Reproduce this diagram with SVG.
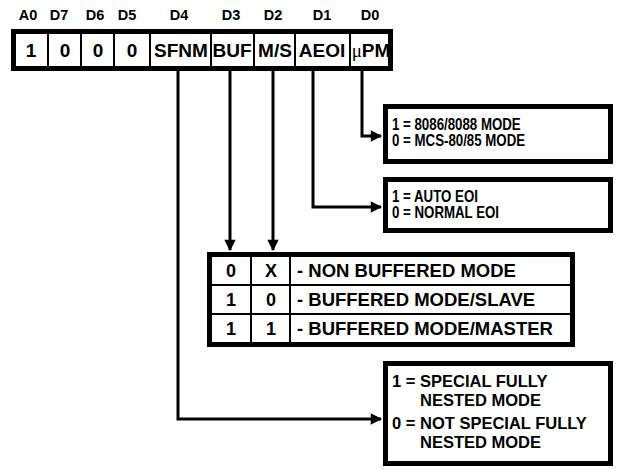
<svg xmlns="http://www.w3.org/2000/svg" width="624" height="470" viewBox="0 0 624 470">
<defs>
<marker id="ah" viewBox="0 0 10 10" refX="9" refY="5" markerWidth="4" markerHeight="3.8" orient="auto" markerUnits="strokeWidth">
<path d="M0,0 L10,5 L0,10 z" fill="#000"/>
</marker>
</defs>
<style>
text{font-family:"Liberation Sans",Arial,sans-serif;font-weight:bold;fill:#000}
.hd{font-size:14.5px;text-anchor:middle}
.cv{font-size:19px;text-anchor:middle}
.tv{font-size:18px;text-anchor:middle}
.bx{fill:#fff;stroke:#000;stroke-width:5}
.dv{stroke:#000;stroke-width:2}
.t{font-size:16px}
.tt{font-size:18.5px}
.t4{font-size:16.5px}
.c{stroke:#000;stroke-width:3;fill:none}
</style>
<g id="header">
<text class="hd" x="28" y="20">A0</text>
<text class="hd" x="59" y="20">D7</text>
<text class="hd" x="95" y="20">D6</text>
<text class="hd" x="127" y="20">D5</text>
<text class="hd" x="179" y="20">D4</text>
<text class="hd" x="231" y="20">D3</text>
<text class="hd" x="273" y="20">D2</text>
<text class="hd" x="322" y="20">D1</text>
<text class="hd" x="370" y="20">D0</text>
</g>
<g id="register">
<rect class="bx" x="13.5" y="31.5" width="377" height="37"/>
<line class="dv" x1="48" y1="34" x2="48" y2="66"/>
<line class="dv" x1="81" y1="34" x2="81" y2="66"/>
<line class="dv" x1="114" y1="34" x2="114" y2="66"/>
<line class="dv" x1="150" y1="34" x2="150" y2="66"/>
<line class="dv" x1="211" y1="34" x2="211" y2="66"/>
<line class="dv" x1="254" y1="34" x2="254" y2="66"/>
<line class="dv" x1="295" y1="34" x2="295" y2="66"/>
<line class="dv" x1="350" y1="34" x2="350" y2="66"/>
<text class="cv" x="31" y="57">1</text>
<text class="cv" x="65" y="57">0</text>
<text class="cv" x="98" y="57">0</text>
<text class="cv" x="132" y="57">0</text>
<text class="cv" x="181" y="57">SFNM</text>
<text class="cv" x="232" y="57">BUF</text>
<text class="cv" x="275" y="57">M/S</text>
<text class="cv" x="322" y="57">AEOI</text>
<text class="cv" x="371" y="57"><tspan font-family="'Liberation Serif',serif" font-weight="normal">μ</tspan>PM</text>
</g>
<g id="connectors">
<path class="c" d="M362,70 V136 H381" marker-end="url(#ah)"/>
<path class="c" d="M313,70 V207 H381" marker-end="url(#ah)"/>
<path class="c" d="M273,70 V250" marker-end="url(#ah)"/>
<path class="c" d="M230,70 V250" marker-end="url(#ah)"/>
<path class="c" d="M178,70 V419 H381" marker-end="url(#ah)"/>
</g>
<g id="upm-box">
<rect class="bx" x="385.5" y="106.5" width="225" height="55"/>
<text class="t" transform="translate(392,130) scale(0.83,1)">1 = 8086/8088 MODE</text>
<text class="t" transform="translate(392,146) scale(0.83,1)">0 = MCS-80/85 MODE</text>
</g>
<g id="aeoi-box">
<rect class="bx" x="385.5" y="179.5" width="225" height="51"/>
<text class="t" transform="translate(392,202) scale(0.83,1)">1 = AUTO EOI</text>
<text class="t" transform="translate(392,218) scale(0.83,1)">0 = NORMAL EOI</text>
</g>
<g id="buf-table">
<rect class="bx" x="209.5" y="254.5" width="363" height="90"/>
<line class="dv" x1="212" y1="285" x2="570" y2="285"/>
<line class="dv" x1="212" y1="314" x2="570" y2="314"/>
<line class="dv" x1="251" y1="257" x2="251" y2="342"/>
<line class="dv" x1="290" y1="257" x2="290" y2="342"/>
<text class="tv" x="231" y="277">0</text>
<text class="tv" x="271" y="277">X</text>
<text class="tv" x="231" y="306">1</text>
<text class="tv" x="271" y="306">0</text>
<text class="tv" x="231" y="335">1</text>
<text class="tv" x="271" y="335">1</text>
<text class="tt" x="297" y="277">- NON BUFFERED MODE</text>
<text class="tt" x="297" y="306">- BUFFERED MODE/SLAVE</text>
<text class="tt" x="297" y="335">- BUFFERED MODE/MASTER</text>
</g>
<g id="sfnm-box">
<rect class="bx" x="385.5" y="363.5" width="225" height="100"/>
<text class="t4" x="392" y="387">1 = SPECIAL FULLY</text>
<text class="t4" x="420" y="405.5">NESTED MODE</text>
<text class="t4" x="392" y="429">0 = NOT SPECIAL FULLY</text>
<text class="t4" x="420" y="447.5">NESTED MODE</text>
</g>
</svg>
